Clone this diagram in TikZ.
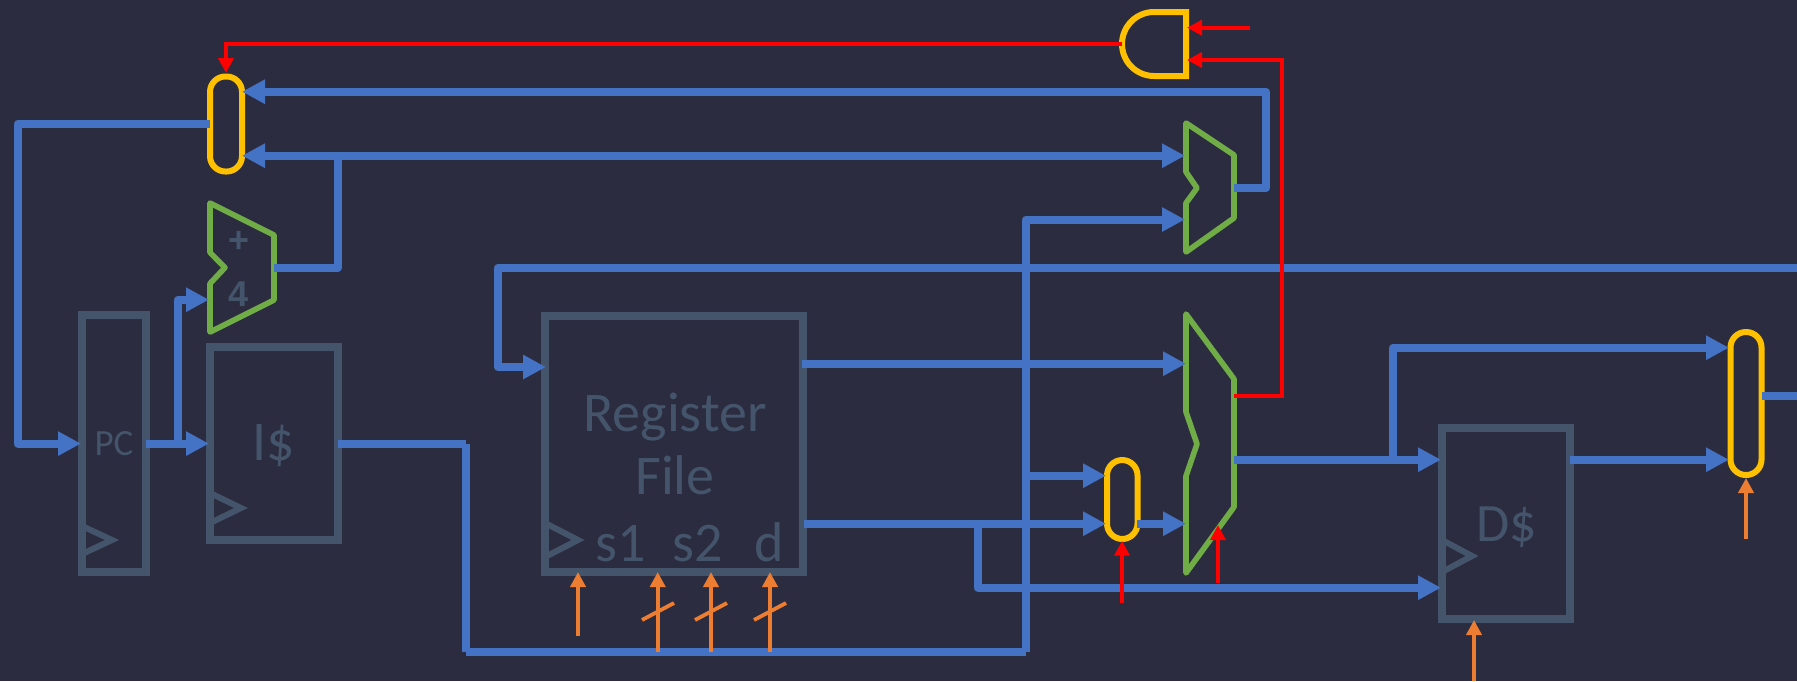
\documentclass[tikz,border=0pt]{standalone}
\usepackage{fontspec}
\setmainfont{Carlito}
\newfontfamily\boldface{Liberation Sans}
\usetikzlibrary{arrows.meta}
\definecolor{bgc}{HTML}{2C2C40}
\definecolor{bluec}{HTML}{4472C4}
\definecolor{greenc}{HTML}{70AD47}
\definecolor{goldc}{HTML}{FFC000}
\definecolor{orangec}{HTML}{ED7D31}
\definecolor{redc}{HTML}{FF0000}
\definecolor{grayc}{HTML}{44546A}
\tikzset{
  unit/.style={draw=grayc,line width=3.75pt,inner sep=0pt,outer sep=0pt,text=grayc},
  clockmark/.style={draw=grayc,line width=3pt,miter limit=10},
  capsule/.style={draw=goldc,line width=3pt,inner sep=0pt,outer sep=0pt,rounded corners=7.7pt},
  alu/.style={draw=greenc,line width=2.8pt,line join=round},
  andgate/.style={draw=goldc,line width=3pt},
  label/.style={text=grayc,inner sep=0pt,outer sep=0pt},
  bus/.style={draw=bluec,line width=4pt,line join=round},
  busarrow/.style={bus,-{Triangle[length=11.5pt,width=11.5pt]}},
  ctrl/.style={draw=redc,line width=2pt,line join=miter},
  ctrlarrow/.style={ctrl,-{Triangle[length=7.5pt,width=7.5pt]}},
  sig/.style={draw=orangec,line width=1.9pt},
  sigarrow/.style={sig,-{Triangle[length=7.5pt,width=7.5pt]}},
}
\begin{document}
\begin{tikzpicture}[x=0.5pt,y=-0.5pt]
\path[use as bounding box,fill=bgc] (0,0) rectangle (1797,681);
% units
\node[unit,minimum width=32pt,minimum height=128.5pt] (pc) at (114,443.7) {};
\node[label,font=\fontsize{18.5}{18.5}\selectfont] (pclabel) at (114,444) {PC};
\node[unit,minimum width=64pt,minimum height=96.5pt] (icache) at (274,443.6) {};
\node[label,font=\fontsize{28}{28}\selectfont] (iclabel) at (274,446) {I\$};
\node[unit,minimum width=129pt,minimum height=128pt] (rf) at (674,444) {};
\node[unit,minimum width=64pt,minimum height=95.5pt] (dcache) at (1506,523.5) {};
\node[label,font=\fontsize{27}{27}\selectfont] (dlabel) at (1507,527) {D\$};
\node[label,font=\fontsize{28}{28}\selectfont,anchor=base] (rlabel) at (675,431) {Register};
\node[label,font=\fontsize{28}{28}\selectfont,anchor=base] (flabel) at (675,494) {File};
\node[label,font=\fontsize{28}{28}\selectfont,anchor=base] (s1label) at (620.5,561) {s1};
\node[label,font=\fontsize{28}{28}\selectfont,anchor=base] (s2label) at (698,561) {s2};
\node[label,font=\fontsize{28}{28}\selectfont,anchor=base] (dreg) at (769,561) {d};
% clock marks
\draw[clockmark] (82,526) -- (112,540) -- (82,554);
\draw[clockmark] (210,493) -- (241,508) -- (210,523);
\draw[clockmark] (545,523) -- (578,540) -- (545,557);
\draw[clockmark] (1442,540) -- (1472,556) -- (1442,572);
% arithmetic units
\draw[alu] (210,203) -- (274,235) -- (274,300) -- (210,332) -- (210,283.5) -- (225,267.6) -- (210,252.5) -- cycle;
\node[label,font=\boldface\bfseries\fontsize{18}{18}\selectfont] (plus) at (239,242) {+};
\node[label,font=\boldface\bfseries\fontsize{18}{18}\selectfont] (four) at (239,294) {4};
\draw[alu] (1186,123) -- (1234,155) -- (1234,218) -- (1186,252) -- (1186,203) -- (1197,188) -- (1186,172) -- cycle;
\draw[alu] (1186,314) -- (1234,379) -- (1234,507) -- (1186,573) -- (1186,476) -- (1197,444) -- (1186,412) -- cycle;
% capsule muxes and gate
\node[capsule,minimum width=16pt,minimum height=47.5pt] (muxa) at (226,124) {};
\node[capsule,minimum width=15.25pt,minimum height=39.5pt] (muxb) at (1122.25,499.5) {};
\node[capsule,minimum width=15.5pt,minimum height=71.5pt] (muxc) at (1746,403.5) {};
\draw[andgate] (1186,12) -- (1154,12) arc[start angle=270,end angle=90,radius=32] -- (1186,76) -- cycle;
% named ends
\coordinate (andout) at (1122,43.7);
\coordinate (andina) at (1187,27.7);
\coordinate (andinb) at (1187,60);
\coordinate (freea) at (1250,27.7);
\coordinate (muxain) at (242,91.7);
\coordinate (muxaina) at (242,155.7);
\coordinate (muxaout) at (210,123.7);
\coordinate (pcin) at (81,443.6);
\coordinate (pcout) at (146,443.6);
\coordinate (icin) at (209,443.6);
\coordinate (icout) at (338,443.6);
\coordinate (addin) at (209,299.7);
\coordinate (addout) at (274,267.6);
\coordinate (mtin) at (1185,155.7);
\coordinate (mtinb) at (1185,219.5);
\coordinate (mtout) at (1234,188);
\coordinate (rfin) at (546,367);
\coordinate (rfa) at (802,363.7);
\coordinate (rfb) at (803.5,523.7);
\coordinate (aluin) at (1186,363.7);
\coordinate (aluinb) at (1186,523.7);
\coordinate (aluout) at (1234,459.7);
\coordinate (alur) at (1234,395.7);
\coordinate (mbina) at (1106,475.7);
\coordinate (mbinb) at (1106,523.7);
\coordinate (mbout) at (1137,523.7);
\coordinate (dcin) at (1441,459.7);
\coordinate (dcinb) at (1441,587.7);
\coordinate (dcout) at (1570,459.7);
\coordinate (mcina) at (1729,347.7);
\coordinate (mcinb) at (1729,459.7);
\coordinate (mcout) at (1762,395.7);
\coordinate (edgea) at (1797,395.7);
\coordinate (edgeb) at (1797,267.7);
% data buses
\draw[busarrow] (muxaout) -- (18,123.7) -- (18,443.6) -- (pcin);
\draw[busarrow] (pcout) -- (icin);
\draw[busarrow] (178,443.6) -- (178,299.7) -- (addin);
\draw[bus] (addout) -- (338,267.6) -- (338,155.7);
\draw[busarrow] (338,155.7) -- (muxaina);
\draw[busarrow] (338,155.7) -- (mtin);
\draw[busarrow] (mtout) -- (1266,188) -- (1266,91.7) -- (muxain);
\draw[bus] (icout) -- (466,443.6);
\draw[bus] (466,443.6) -- (466,651.7);
\draw[bus] (466,651.7) -- (1026,651.7);
\draw[busarrow] (1026,651.7) -- (1026,219.5) -- (mtinb);
\draw[busarrow] (1026,475.7) -- (mbina);
\draw[busarrow] (edgeb) -- (498,267.7) -- (498,367) -- (rfin);
\draw[busarrow] (rfa) -- (aluin);
\draw[busarrow] (rfb) -- (mbinb);
\draw[busarrow] (mbout) -- (aluinb);
\draw[busarrow] (978,523.7) -- (978,587.7) -- (dcinb);
\draw[busarrow] (aluout) -- (dcin);
\draw[busarrow] (1393,459.7) -- (1393,347.7) -- (mcina);
\draw[busarrow] (dcout) -- (mcinb);
\draw[bus] (mcout) -- (edgea);
% control
\draw[ctrlarrow] (andout) -- (226,43.7) -- (226,73);
\draw[ctrlarrow] (freea) -- (andina);
\draw[ctrlarrow] (alur) -- (1282,395.7) -- (1282,60) -- (andinb);
\draw[ctrlarrow] (1122,603) -- (1122,540.7);
\draw[ctrlarrow] (1218,583) -- (1218,525);
% register and cache select lines
\draw[sigarrow] (578,635.7) -- (578,572);
\draw[sigarrow] (657.7,651.7) -- (657.7,572);
\draw[sigarrow] (711,651.7) -- (711,572);
\draw[sigarrow] (770,651.7) -- (770,572);
\draw[sig] (642,620) -- (674,603);
\draw[sig] (695,620) -- (727,603);
\draw[sig] (754,620) -- (786,603);
\draw[sigarrow] (1474,681) -- (1474,620);
\draw[sigarrow] (1746,539) -- (1746,478);
\end{tikzpicture}
\end{document}
